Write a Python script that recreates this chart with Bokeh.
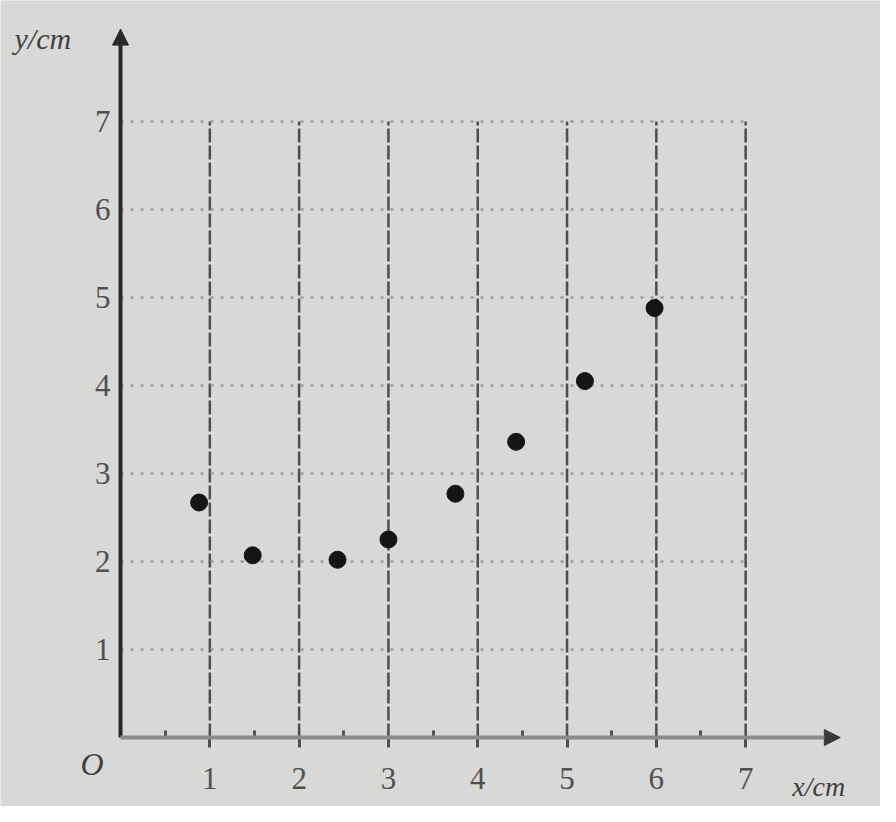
from bokeh.plotting import figure
from bokeh.models import Label, Arrow, NormalHead, FixedTicker, Range1d, LinearAxis
from bokeh.embed import file_html
from bokeh.resources import INLINE

# data
x_vals = [0.88, 1.48, 2.43, 3.0, 3.75, 4.43, 5.2, 5.98]
y_vals = [2.67, 2.07, 2.02, 2.25, 2.77, 3.36, 4.05, 4.88]
x_ticks = [1, 2, 3, 4, 5, 6, 7]
x_minor = [0.5, 1.5, 2.5, 3.5, 4.5, 5.5, 6.5]
y_ticks = [1, 2, 3, 4, 5, 6, 7]
x_label = "x/cm"
y_label = "y/cm"
grid_top = 7
grid_right = 7

BG = "#d8d8d6"
p = figure(width=880, height=806, output_backend="svg", toolbar_location=None,
           x_range=Range1d(-1.344, 8.51), y_range=Range1d(-0.784, 8.375),
           x_axis_location=None, y_axis_location=None,
           min_border=0, background_fill_color=BG, border_fill_color=BG,
           outline_line_color=None)
p.xgrid.visible = False
p.ygrid.visible = False

# grid lines
p.segment(x0=x_ticks, y0=[0] * len(x_ticks), x1=x_ticks, y1=[grid_top] * len(x_ticks),
          line_color="#4e4e4e", line_width=2.5, line_dash="14 3")
p.segment(x0=[0] * len(y_ticks), y0=y_ticks, x1=[grid_right] * len(y_ticks), y1=y_ticks,
          line_color="#9c9c9c", line_width=2.5, line_dash="3 7")

# axes placed through the origin
xaxis = LinearAxis(fixed_location=0, ticker=FixedTicker(ticks=x_ticks, minor_ticks=x_minor))
yaxis = LinearAxis(fixed_location=0, ticker=FixedTicker(ticks=y_ticks))
for ax in (xaxis, yaxis):
    ax.axis_line_color = None
    ax.major_label_text_font = "Liberation Serif"
    ax.major_label_text_font_size = "31px"
    ax.major_label_text_color = "#505050"
xaxis.major_tick_line_color = "#4e4e4e"
xaxis.major_tick_line_width = 3
xaxis.major_tick_in = 0
xaxis.major_tick_out = 10
xaxis.minor_tick_line_color = "#555555"
xaxis.minor_tick_line_width = 3
xaxis.minor_tick_in = 7
xaxis.minor_tick_out = 0
xaxis.major_label_standoff = 20
yaxis.major_tick_line_color = None
yaxis.minor_tick_line_color = None
yaxis.major_label_standoff = 4
p.add_layout(xaxis, "below")
p.add_layout(yaxis, "left")

# axis arrows
p.add_layout(Arrow(x_start=0, y_start=0, x_end=0, y_end=8.05, line_color="#2a2a2a", line_width=4,
                   end=NormalHead(size=16, fill_color="#2a2a2a", line_color="#2a2a2a")))
p.add_layout(Arrow(x_start=0, y_start=0, x_end=8.06, y_end=0, line_color="#8c8c8c", line_width=4,
                   end=NormalHead(size=16, fill_color="#3a3a3a", line_color="#3a3a3a")))

p.scatter(x_vals, y_vals, size=17, color="#151515")

p.add_layout(Label(x=0, y=0, text="O", x_offset=-40, y_offset=-44, text_font="Liberation Serif",
                   text_font_style="italic", text_font_size="32px", text_color="#404040"))
p.add_layout(Label(x=0, y=8.05, text=y_label, x_offset=-106, y_offset=-26, text_font="Liberation Serif",
                   text_font_style="italic", text_font_size="30px", text_color="#404040"))
p.add_layout(Label(x=8.06, y=0, text=x_label, x_offset=-48, y_offset=-64, text_font="Liberation Serif",
                   text_font_style="italic", text_font_size="28px", text_color="#404040"))

open("out.html", "w").write(file_html(p, INLINE))
